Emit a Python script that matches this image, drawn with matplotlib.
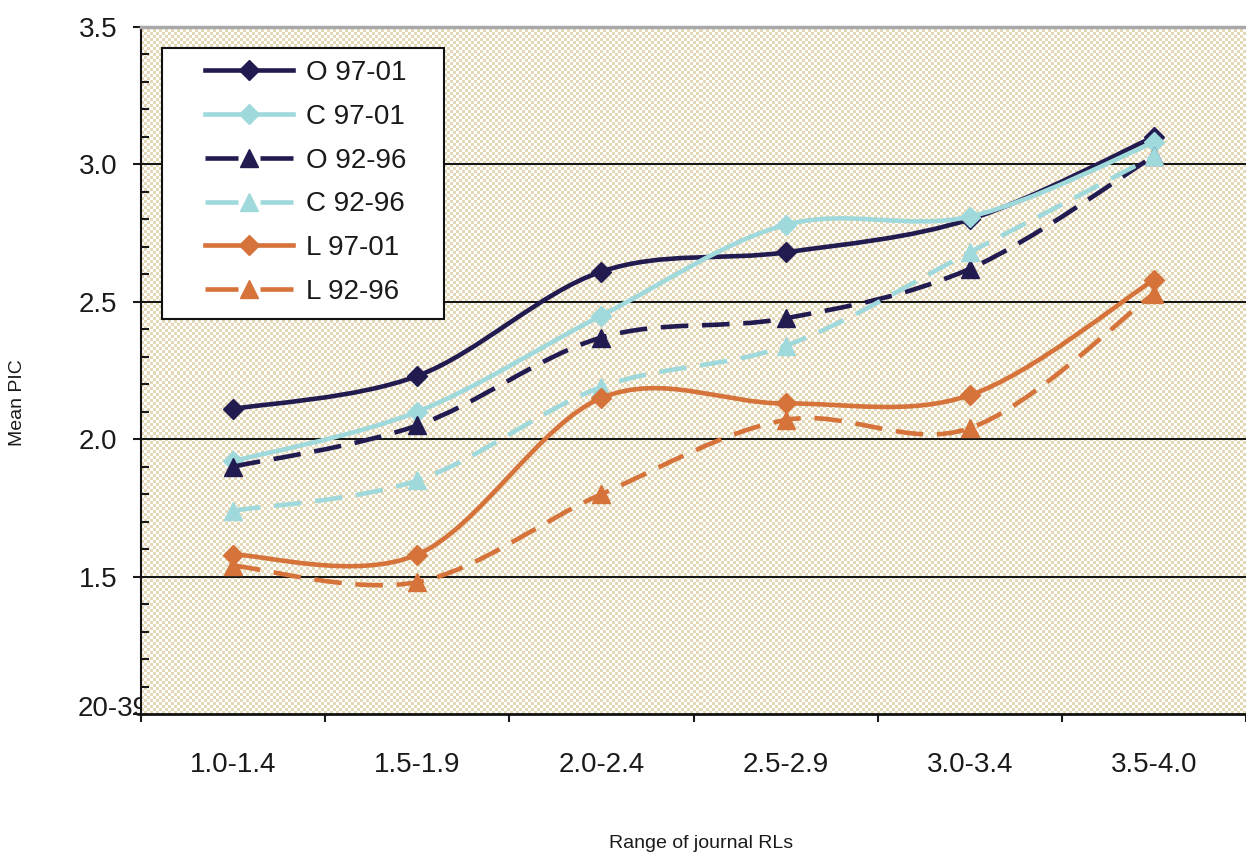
import numpy as np
import matplotlib
matplotlib.use("Agg")
import matplotlib.pyplot as plt
from matplotlib.colors import ListedColormap
from matplotlib.lines import Line2D
from matplotlib.patches import PathPatch, Rectangle
from matplotlib.path import Path

plt.rcParams["font.family"] = ["Liberation Sans", "DejaVu Sans"]

# categories along x and the mean PIC per series
ranges = ["1.0-1.4", "1.5-1.9", "2.0-2.4", "2.5-2.9", "3.0-3.4", "3.5-4.0"]

o_97_01 = [2.11, 2.23, 2.61, 2.68, 2.80, 3.10]
c_97_01 = [1.92, 2.10, 2.45, 2.78, 2.81, 3.08]
o_92_96 = [1.90, 2.05, 2.37, 2.44, 2.62, 3.03]
c_92_96 = [1.74, 1.85, 2.19, 2.34, 2.68, 3.03]
l_97_01 = [1.58, 1.58, 2.15, 2.13, 2.16, 2.58]
l_92_96 = [1.54, 1.48, 1.80, 2.07, 2.04, 2.53]

series_names = ["O 97-01", "C 97-01", "O 92-96", "C 92-96", "L 97-01", "L 92-96"]

NAVY = "#221b50"
CYAN = "#a0d9dc"
ORANGE = "#d5733a"
TAN = "#e4d8b6"
DASH = (0, (6, 3))
LEGEND_DASH = (0, (7.2, 4.8, 7.2, 20))   # dash - marker - dash in the legend
MS = {"D": 10, "^": 13}

styles = [
    (o_97_01, NAVY, "-", "D"),
    (c_97_01, CYAN, "-", "D"),
    (o_92_96, NAVY, DASH, "^"),
    (c_92_96, CYAN, DASH, "^"),
    (l_97_01, ORANGE, "-", "D"),
    (l_92_96, ORANGE, DASH, "^"),
]

W, H = 1246, 855
AX_L, AX_R, AX_T, AX_B = 141, 1246, 27, 714


def smooth_path(xs, ys):
    # spreadsheet-style smoothed line: cubic Bezier through every point
    pts = np.column_stack([xs, ys]).astype(float)
    padded = np.vstack([pts[:1], pts, pts[-1:]])
    verts = [pts[0]]
    codes = [Path.MOVETO]
    for i in range(len(pts) - 1):
        p0, p1, p2, p3 = padded[i], padded[i + 1], padded[i + 2], padded[i + 3]
        verts += [p1 + (p2 - p0) / 6, p2 - (p3 - p1) / 6, p2]
        codes += [Path.CURVE4] * 3
    return Path(verts, codes)


fig = plt.figure(figsize=(W / 100, H / 100), dpi=100)
ax = fig.add_axes([AX_L / W, 1 - AX_B / H, (AX_R - AX_L) / W, (AX_B - AX_T) / H])

x = np.arange(len(ranges))
ax.set_xlim(-0.5, len(ranges) - 0.5)
ax.set_ylim(1.0, 3.5)

# checkered plot-area fill
nx, ny = (AX_R - AX_L) // 3, (AX_B - AX_T) // 3
checker = np.indices((ny, nx)).sum(axis=0) % 2
ax.imshow(checker, cmap=ListedColormap(["white", TAN]), extent=(-0.5, len(ranges) - 0.5, 1.0, 3.5),
          aspect="auto", interpolation="nearest", zorder=0)

for level in [1.5, 2.0, 2.5, 3.0]:
    ax.axhline(level, color="#111111", lw=1.4, zorder=1)

for i, (vals, color, ls, marker) in enumerate(styles):
    patch = PathPatch(smooth_path(x, vals), fill=False, edgecolor=color, lw=3.3,
                      linestyle=ls, capstyle="butt", joinstyle="round", zorder=2 + i)
    ax.add_patch(patch)
    ax.plot(x, vals, linestyle="none", marker=marker, ms=MS[marker], color=color,
            markeredgecolor=color, zorder=2 + i)

# axes frame
ax.spines["right"].set_visible(False)
ax.spines["top"].set_color("#a8a8a8")
ax.spines["top"].set_linewidth(2.5)
ax.spines["left"].set_color("#111111")
ax.spines["left"].set_linewidth(1.5)
ax.spines["bottom"].set_color("#111111")
ax.spines["bottom"].set_linewidth(2)

# y axis: labelled majors outward, unlabelled minors inward
ax.set_yticks([1.0, 1.5, 2.0, 2.5, 3.0, 3.5])
ax.set_yticklabels(["", "1.5", "2.0", "2.5", "3.0", "3.5"])
ax.set_yticks(np.arange(1.1, 3.5, 0.1), minor=True)
ax.tick_params(axis="y", which="major", direction="out", length=6, width=1.5,
               labelsize=20, pad=11, colors="#1a1a1a")
ax.tick_params(axis="y", which="minor", direction="in", length=6, width=1.5, colors="#1a1a1a")

# x axis: ticks on the category boundaries, labels centred in between
ax.set_xticks(np.arange(-0.5, len(ranges), 1.0))
ax.set_xticklabels([])
ax.set_xticks(x, minor=True)
ax.set_xticklabels(ranges, minor=True)
ax.tick_params(axis="x", which="major", direction="out", length=6, width=1.5, colors="#1a1a1a")
ax.tick_params(axis="x", which="minor", length=0, labelsize=20, pad=27, colors="#1a1a1a")

# bottom y label partly hidden behind the plot area
fig.text(78 / W, 1 - 709 / H, "20-39", fontsize=20, color="#1a1a1a",
         ha="left", va="center", zorder=-1)

fig.text(609 / W, 1 - 843 / H, "Range of journal RLs", fontsize=14, ha="left", va="center",
         color="#1a1a1a")
fig.text(17 / W, 1 - 403 / H, "Mean PIC", fontsize=14, rotation=90, ha="center", va="center",
         color="#1a1a1a")

# legend box and entries
ax.add_patch(Rectangle((162 / W, 1 - 319 / H), (444 - 162) / W, (319 - 48) / H,
                       transform=fig.transFigure, facecolor="white", edgecolor="#111111",
                       lw=1.5, zorder=20, clip_on=False))
handles = [
    Line2D([], [], color=color, lw=3.3, linestyle=("-" if ls == "-" else LEGEND_DASH),
           marker=marker, ms=MS[marker], markeredgecolor=color)
    for _, color, ls, marker in styles
]
leg = ax.legend(handles, series_names, loc="upper left", bbox_to_anchor=(205 / W, 1 - 60 / H),
                bbox_transform=fig.transFigure, frameon=False, fontsize=20, borderpad=0,
                borderaxespad=0, handlelength=3.17, handletextpad=0.45, labelspacing=0.64)
leg.set_zorder(21)
for t in leg.get_texts():
    t.set_color("#1a1a1a")

fig.savefig("out.png", dpi=100)
